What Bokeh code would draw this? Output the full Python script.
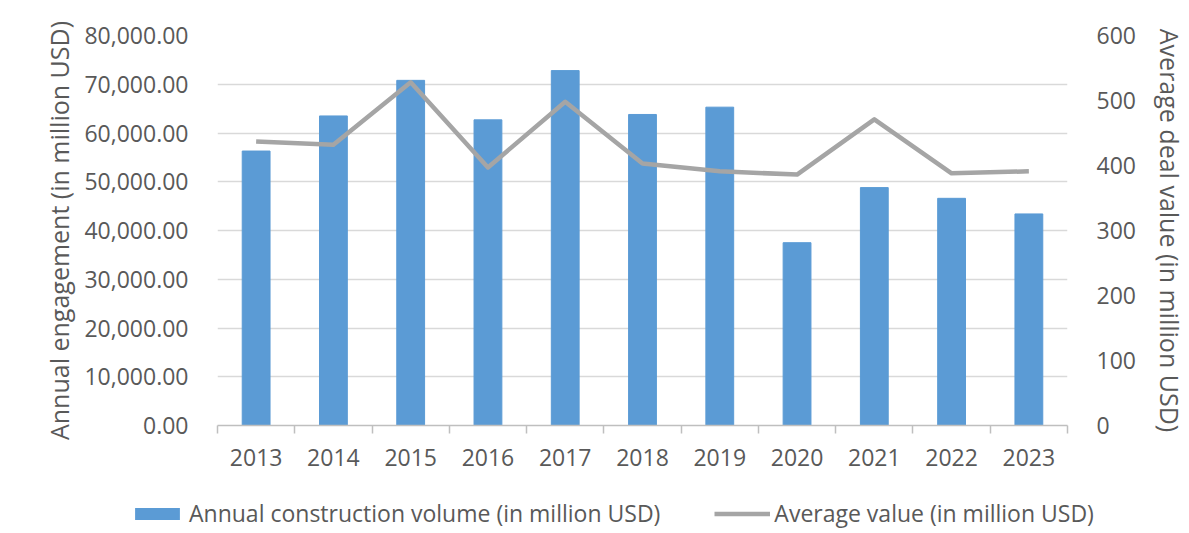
from bokeh.plotting import figure
from bokeh.models import (Range1d, LinearAxis, CategoricalAxis, FixedTicker,
                          NumeralTickFormatter, Legend, LegendItem, FactorRange)
from bokeh.embed import file_html
from bokeh.resources import INLINE

years = ["2013", "2014", "2015", "2016", "2017", "2018", "2019", "2020", "2021", "2022", "2023"]
construction_volume = [56300, 63500, 70800, 62700, 72800, 63800, 65300, 37500, 48800, 46600, 43400]
average_value = [437, 432, 528, 397, 498, 403, 391, 386, 471, 388, 391]
left_ticks = [0, 10000, 20000, 30000, 40000, 50000, 60000, 70000, 80000]
right_ticks = [0, 100, 200, 300, 400, 500, 600]
series_names = ["Annual construction volume (in million USD)", "Average value (in million USD)"]

FONT = "Open Sans"
TXT = "#595959"
BAR_COLOR = "#5b9bd5"
LINE_COLOR = "#a5a5a5"

p = figure(width=1189, height=490, x_range=FactorRange(*years), y_range=Range1d(0, 80000),
           output_backend="svg", toolbar_location=None, x_axis_location=None, y_axis_location=None,
           min_border_left=217, min_border_right=109, min_border_top=35, min_border_bottom=65)
p.outline_line_color = None
p.xgrid.grid_line_color = None
p.ygrid.grid_line_color = "#d9d9d9"
p.ygrid.grid_line_width = 1.5
p.ygrid.ticker = FixedTicker(ticks=left_ticks)

p.extra_y_ranges = {"avg": Range1d(0, 600)}

p.vbar(x=years, top=construction_volume, width=0.36, color=BAR_COLOR)
p.line(x=years, y=average_value, y_range_name="avg", line_color=LINE_COLOR,
       line_width=4.5, line_join="round")

# left axis
ly = LinearAxis(ticker=FixedTicker(ticks=left_ticks), formatter=NumeralTickFormatter(format="0,0.00"),
                axis_label="Annual engagement (in million USD)")
# right axis
ry = LinearAxis(y_range_name="avg", ticker=FixedTicker(ticks=right_ticks),
                axis_label="Average deal value (in million USD)")
for ax in (ly, ry):
    ax.axis_line_color = None
    ax.major_tick_line_color = None
    ax.minor_tick_line_color = None
    ax.major_label_text_font = FONT
    ax.major_label_text_font_size = "23px"
    ax.major_label_text_color = TXT
    ax.major_label_standoff = 23
    ax.axis_label_text_font = FONT
    ax.axis_label_text_font_size = "25px"
    ax.axis_label_text_font_style = "normal"
    ax.axis_label_text_color = TXT
ly.axis_label_standoff = 5
ry.axis_label_standoff = 14
p.add_layout(ly, "left")
p.add_layout(ry, "right")

# bottom: boundary ticks (synthetic coordinates 0..11 of the factor range) + category labels
edge_ticks = list(range(len(years) + 1))
edge_axis = LinearAxis(ticker=FixedTicker(ticks=edge_ticks),
                       major_label_overrides={t: "" for t in edge_ticks},
                       major_label_text_font_size="1px", major_label_standoff=0,
                       major_tick_in=0, major_tick_out=8, minor_tick_line_color=None,
                       axis_line_color="#bfbfbf", axis_line_width=1.5,
                       major_tick_line_color="#bfbfbf", major_tick_line_width=1.5)
p.add_layout(edge_axis, "below")
cat_axis = CategoricalAxis(axis_line_color=None, major_tick_line_color=None,
                           major_label_text_font=FONT, major_label_text_font_size="23px",
                           major_label_text_color=TXT, major_label_standoff=9)
p.add_layout(cat_axis, "below")

# legend strip below the chart (same series drawn out of view; only the legend shows)
lg = figure(width=1189, height=41, x_range=FactorRange(*years), y_range=Range1d(100000, 200000),
            output_backend="svg", toolbar_location=None, x_axis_location=None, y_axis_location=None,
            min_border=0)
lg.outline_line_color = None
lg.grid.grid_line_color = None
r_bar = lg.vbar(x=years, top=construction_volume, width=0.36, fill_color=BAR_COLOR, line_color=None)
r_line = lg.line(x=years, y=average_value, line_color=LINE_COLOR, line_width=4.5)
legend = Legend(items=[LegendItem(label=series_names[0], renderers=[r_bar]),
                       LegendItem(label=series_names[1], renderers=[r_line])],
                orientation="horizontal", location=(129, 2),
                label_text_font=FONT, label_text_font_size="23px", label_text_color=TXT,
                glyph_width=56, glyph_height=15, label_standoff=4, spacing=54,
                padding=0, margin=0, border_line_color=None, background_fill_alpha=0)
lg.add_layout(legend, "center")

open("out.html", "w").write(file_html([p, lg], INLINE))
